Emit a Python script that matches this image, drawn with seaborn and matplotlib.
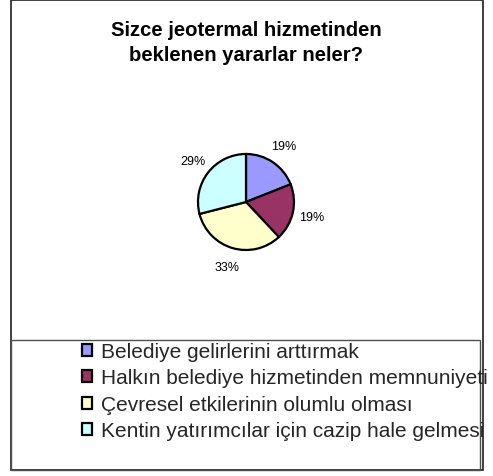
import matplotlib
matplotlib.use("Agg")
import matplotlib.pyplot as plt
from matplotlib.patches import Rectangle
import seaborn as sns

# data
labels = [
    "Belediye gelirlerini arttırmak",
    "Halkın belediye hizmetinden memnuniyeti",
    "Çevresel etkilerinin olumlu olması",
    "Kentin yatırımcılar için cazip hale gelmesi",
]
shares = [19, 19, 33, 29]
slice_colors = ["#9999FF", "#993366", "#FFFFCC", "#CCFFFF"]

TITLE = "Sizce jeotermal hizmetinden\nbeklenen yararlar neler?"

W, H = 493, 477
DPI = 100

sns.set_theme(style="white")
plt.rcParams["font.family"] = ["Liberation Sans", "DejaVu Sans"]


def px_rect(x0, y0, x1, y1):
    """pixel box (top-left origin) -> figure fraction rect"""
    return [x0 / W, 1 - y1 / H, (x1 - x0) / W, (y1 - y0) / H]


fig = plt.figure(figsize=(W / DPI, H / DPI), dpi=DPI)
fig.patch.set_facecolor("white")

# outer chart border and legend box
b = px_rect(11, 1, 483, 471)
fig.patches.append(Rectangle((b[0], b[1]), b[2], b[3], transform=fig.transFigure,
                             fill=False, edgecolor="#202020", linewidth=1.2))
lb = px_rect(11, 341, 480, 471)
fig.patches.append(Rectangle((lb[0], lb[1]), lb[2], lb[3], transform=fig.transFigure,
                             fill=False, edgecolor="#505050", linewidth=1.0))

fig.text(246 / W, 1 - 21 / H, TITLE, ha="center", va="top", fontsize=14.6,
         fontweight="bold", linespacing=1.42, color="black")

# pie
cx, cy, r = 246, 203, 48
lim = 1.5
side = 2 * lim * r
ax = fig.add_axes(px_rect(cx - side / 2, cy - side / 2, cx + side / 2, cy + side / 2))
wedges, _, autotexts = ax.pie(
    shares, colors=slice_colors, startangle=90, counterclock=False,
    autopct="%1.0f%%", pctdistance=1.4,
    wedgeprops=dict(edgecolor="black", linewidth=1.6),
    textprops=dict(fontsize=9, color="black"),
)
ax.set_xlim(-lim, lim)
ax.set_ylim(-lim, lim)
ax.set_aspect("equal")
ax.axis("off")

leg = fig.legend(
    wedges, labels, loc="upper left",
    bbox_to_anchor=(82 / W, 1 - 343 / H),
    frameon=False, fontsize=15, borderpad=0, borderaxespad=0,
    handlelength=0.5, handleheight=0.5, handletextpad=0.4,
    labelspacing=0.36,
)
for h in leg.legend_handles:
    h.set_linewidth(1.6)

fig.savefig("out.png", dpi=DPI)
